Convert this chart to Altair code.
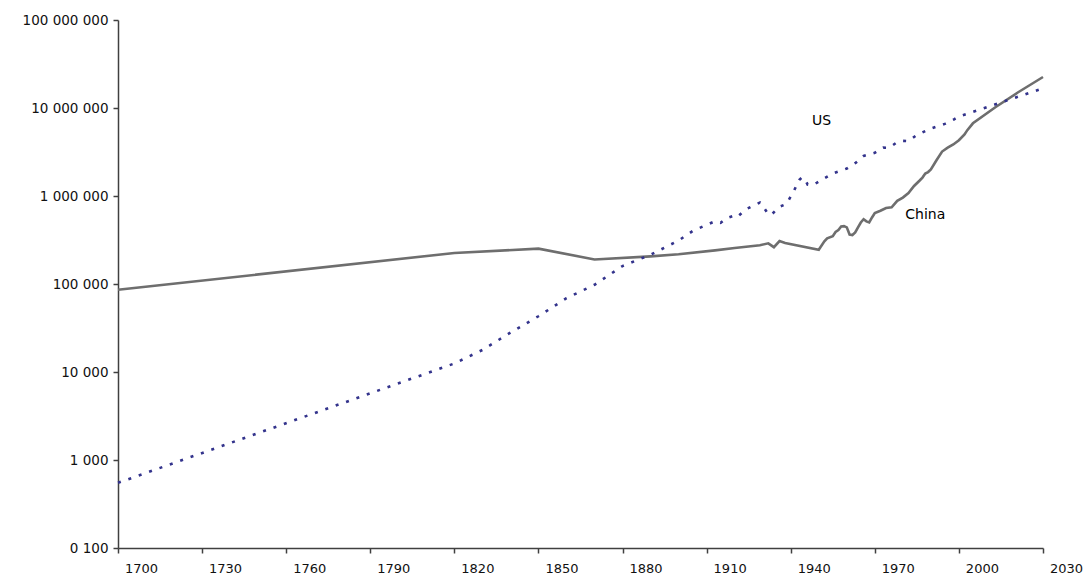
import altair as alt
import pandas as pd

# China GDP (million 1990 international $)
china_years = [1700, 1820, 1850, 1870, 1890, 1900, 1913, 1920, 1929, 1932, 1934, 1936, 1938,
               1950, 1952, 1953, 1955, 1956, 1957, 1958, 1959, 1960, 1961, 1962, 1963, 1964,
               1965, 1966, 1967, 1968, 1969, 1970, 1972, 1974, 1976, 1978, 1980, 1982, 1984,
               1986, 1987, 1988, 1989, 1990, 1992, 1994, 1996, 1998, 2000, 2002, 2003, 2005,
               2013, 2021, 2030]
china_gdp = [86000, 225000, 252000, 190000, 206000, 218000, 241000, 256000, 276000, 290000,
             262000, 308000, 292000, 245000, 305000, 330000, 350000, 390000, 410000, 450000,
             455000, 440000, 365000, 360000, 385000, 440000, 500000, 545000, 515000, 500000,
             570000, 640000, 680000, 730000, 745000, 880000, 960000, 1080000, 1300000, 1500000,
             1620000, 1800000, 1870000, 2000000, 2550000, 3200000, 3550000, 3850000, 4300000,
             5000000, 5600000, 6700000, 10200000, 15000000, 22500000]

# US GDP (million 1990 international $)
us_years = [1700, 1820, 1830, 1840, 1850, 1860, 1870, 1880, 1890, 1900, 1905, 1910, 1913,
            1915, 1917, 1920, 1921, 1924, 1929, 1930, 1932, 1933, 1936, 1938, 1939, 1941,
            1943, 1944, 1945, 1946, 1948, 1950, 1955, 1960, 1963, 1966, 1970, 1973, 1975,
            1978, 1980, 1982, 1985, 1990, 1995, 1998, 2000, 2003, 2030]
us_gdp = [550, 12500, 17800, 28000, 43000, 69000, 98000, 160000, 215000, 312000, 400000,
          470000, 517000, 495000, 557000, 600000, 580000, 706000, 843000, 770000, 620000,
          608000, 755000, 800000, 869000, 1120000, 1520000, 1620000, 1580000, 1350000,
          1330000, 1460000, 1800000, 2050000, 2360000, 2850000, 3100000, 3540000, 3520000,
          4090000, 4230000, 4200000, 4940000, 5850000, 6600000, 7350000, 8000000, 8600000,
          16700000]

label_names = ["US", "China"]
label_years = [1951, 1988]
label_values = [7100000, 610000]

x_ticks = [1700, 1730, 1760, 1790, 1820, 1850, 1880, 1910, 1940, 1970, 2000, 2030]
y_ticks = [100, 1000, 10000, 100000, 1000000, 10000000, 100000000]

china_df = pd.DataFrame({"year": china_years, "gdp": china_gdp})
us_df = pd.DataFrame({"year": us_years, "gdp": us_gdp})
lab_df = pd.DataFrame({"name": label_names, "year": label_years, "gdp": label_values})

FONT = "DejaVu Sans"

x_enc = alt.X(
    "year:Q",
    scale=alt.Scale(domain=[1700, 2030], nice=False, zero=False),
    axis=alt.Axis(
        values=x_ticks, title=None, grid=False, format="d",
        labelOffset=23, labelPadding=9, tickSize=5, labelFlush=False,
        domainColor="#404040", tickColor="#404040", domainWidth=1.5, tickWidth=1.5,
        labelColor="#111111", labelFontSize=13, labelFont=FONT,
    ),
)
y_enc = alt.Y(
    "gdp:Q",
    scale=alt.Scale(type="log", domain=[100, 100000000], nice=False),
    axis=alt.Axis(
        values=y_ticks, title=None, grid=False,
        labelExpr="datum.value == 100 ? '0 100' : replace(replace(format(datum.value, ','), ',', ' '), ',', ' ')",
        labelPadding=5, tickSize=5,
        domainColor="#404040", tickColor="#404040", domainWidth=1.5, tickWidth=1.5,
        labelColor="#111111", labelFontSize=13.5, labelFont=FONT,
    ),
)

china_line = alt.Chart(china_df).mark_line(color="#6e6e6e", strokeWidth=2.6).encode(x=x_enc, y=y_enc)
us_line = alt.Chart(us_df).mark_line(
    color="#33338c", strokeWidth=2.6, strokeDash=[3, 8], strokeCap="butt"
).encode(x=x_enc, y=y_enc)
labels = alt.Chart(lab_df).mark_text(
    fontSize=14, font=FONT, color="#000000", align="center", baseline="middle"
).encode(x=alt.X("year:Q"), y=alt.Y("gdp:Q"), text="name:N")

chart = (
    alt.layer(china_line, us_line, labels)
    .properties(
        width=925, height=528,
        autosize=alt.AutoSizeParams(type="none"),
        padding={"left": 110, "top": 12, "right": 40, "bottom": 30},
        background="white",
    )
    .configure_view(stroke=None)
)

chart.save("out.html", embed_options={"renderer": "svg", "actions": False})
